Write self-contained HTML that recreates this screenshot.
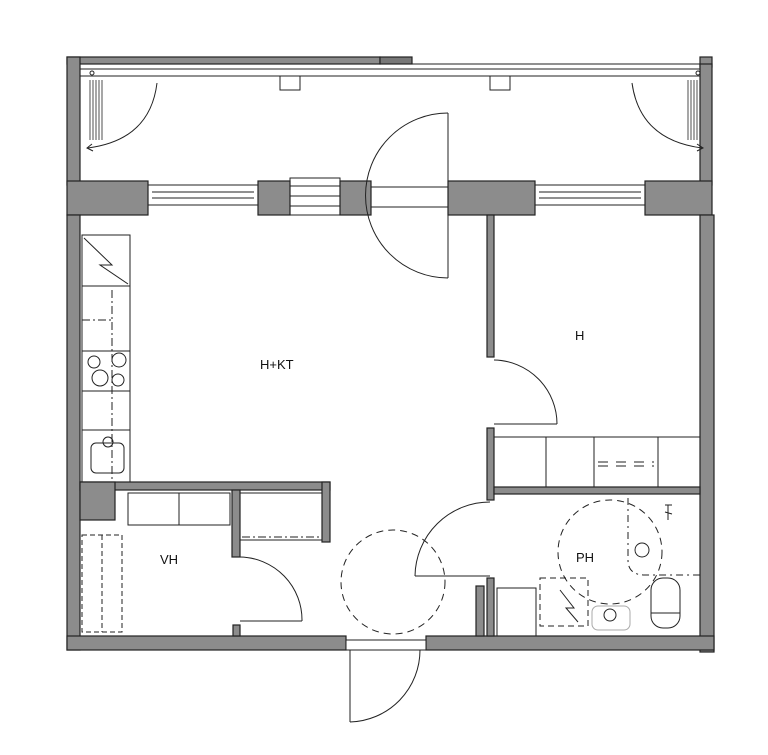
<!DOCTYPE html>
<html><head><meta charset="utf-8"><style>
html,body{margin:0;padding:0;background:#fff}
svg{display:block}
text{font-family:"Liberation Sans",sans-serif;font-size:13px;fill:#111}
</style></head><body>
<svg width="768" height="755" viewBox="0 0 768 755" xmlns="http://www.w3.org/2000/svg">
<g fill="#8c8c8c" stroke="#222" stroke-width="1.2">
<rect x="67" y="57" width="313" height="7"/>
<rect x="380" y="57" width="32" height="7" fill="#777"/>
<rect x="67" y="57" width="13" height="128"/>
<rect x="700" y="57" width="12" height="10"/>
<rect x="700" y="64" width="12" height="121"/>
<rect x="67" y="181" width="81" height="34"/>
<rect x="258" y="181" width="32" height="34"/>
<rect x="340" y="181" width="31" height="34"/>
<rect x="448" y="181" width="87" height="34"/>
<rect x="645" y="181" width="67" height="34"/>
<rect x="67" y="215" width="13" height="435"/>
<rect x="700" y="215" width="14" height="437"/>
<rect x="67" y="636" width="279" height="14"/>
<rect x="426" y="636" width="288" height="14"/>
<rect x="487" y="215" width="7" height="142"/>
<rect x="487" y="428" width="7" height="72"/>
<rect x="487" y="578" width="7" height="58"/>
<rect x="494" y="487" width="206" height="7"/>
<rect x="476" y="586" width="8" height="50"/>
<rect x="80" y="482" width="250" height="8"/>
<rect x="80" y="482" width="35" height="38"/>
<rect x="322" y="482" width="8" height="60"/>
<rect x="232" y="490" width="8" height="67"/>
<rect x="233" y="625" width="7" height="11"/>
</g>
<g fill="none" stroke="#222" stroke-width="1">
<rect x="148" y="185" width="110" height="20"/><line x1="152" y1="192" x2="254" y2="192"/><line x1="152" y1="198" x2="254" y2="198"/>
<rect x="535" y="185" width="110" height="20"/><line x1="539" y1="192" x2="641" y2="192"/><line x1="539" y1="198" x2="641" y2="198"/>
<rect x="290" y="178" width="50" height="37"/><line x1="290" y1="186" x2="340" y2="186"/><line x1="290" y1="196" x2="340" y2="196"/><line x1="290" y1="206" x2="340" y2="206"/>
<rect x="371" y="187" width="77" height="20"/>
<line x1="313" y1="64" x2="712" y2="64"/>
<rect x="80" y="69" width="620" height="7"/>
<circle cx="92" cy="73" r="2"/><circle cx="698" cy="73" r="2"/>
<rect x="280" y="76" width="20" height="14"/><rect x="490" y="76" width="20" height="14"/>
<path d="M157 83 Q150 140 88 148"/><path d="M92 144 L87 148 L93 151"/>
<path d="M632 83 Q640 140 702 148"/><path d="M697 144 L703 148 L697 151"/>
<g stroke-width="0.8"><line x1="90" y1="80" x2="90" y2="140"/><line x1="93" y1="80" x2="93" y2="140"/><line x1="96" y1="80" x2="96" y2="140"/><line x1="99" y1="80" x2="99" y2="140"/><line x1="102" y1="80" x2="102" y2="140"/>
<line x1="688" y1="80" x2="688" y2="140"/><line x1="691" y1="80" x2="691" y2="140"/><line x1="694" y1="80" x2="694" y2="140"/><line x1="697" y1="80" x2="697" y2="140"/><line x1="700" y1="80" x2="700" y2="140"/></g>
<line x1="448" y1="113" x2="448" y2="278"/>
<path d="M448 113 A82 82 0 0 0 448 278"/>
<path d="M494 360 A64 64 0 0 1 557 424"/><line x1="494" y1="424" x2="557" y2="424"/>
<rect x="494" y="437" width="206" height="50"/>
<line x1="546" y1="437" x2="546" y2="487"/><line x1="594" y1="437" x2="594" y2="487"/><line x1="658" y1="437" x2="658" y2="487"/>
<line x1="598" y1="462" x2="654" y2="462" stroke-dasharray="10 8"/><line x1="598" y1="466" x2="654" y2="466" stroke-dasharray="10 8"/>
<rect x="82" y="235" width="48" height="247"/>
<line x1="82" y1="286" x2="130" y2="286"/><line x1="82" y1="351" x2="130" y2="351"/><line x1="82" y1="391" x2="130" y2="391"/><line x1="82" y1="430" x2="130" y2="430"/>
<path d="M84 238 L112 265 L100 265 L128 284"/>
<circle cx="94" cy="362" r="6"/><circle cx="119" cy="360" r="7"/><circle cx="100" cy="378" r="8"/><circle cx="118" cy="380" r="6"/>
<rect x="91" y="443" width="33" height="30" rx="5"/><circle cx="108" cy="442" r="5"/>
<line x1="112" y1="290" x2="112" y2="480" stroke-dasharray="8 3 2 3"/>
<line x1="82" y1="320" x2="112" y2="320" stroke-dasharray="8 3 2 3"/>
<rect x="128" y="493" width="102" height="32"/><line x1="179" y1="493" x2="179" y2="525"/>
<rect x="240" y="493" width="82" height="47"/>
<line x1="242" y1="537" x2="322" y2="537" stroke-dasharray="8 3 2 3"/>
<rect x="82" y="535" width="40" height="97" stroke-dasharray="5 3"/>
<line x1="102" y1="535" x2="102" y2="632" stroke-dasharray="5 3"/>
<path d="M240 557 A63 63 0 0 1 302 621"/><line x1="240" y1="621" x2="302" y2="621"/>
<path d="M415 576 A75 75 0 0 1 490 502"/><line x1="415" y1="576" x2="490" y2="576"/>
<circle cx="393" cy="582" r="52" stroke-dasharray="7 5"/>
<rect x="346" y="640" width="80" height="10" fill="#fff"/>
<line x1="350" y1="650" x2="350" y2="722"/><path d="M350 722 A72 72 0 0 0 420 650"/>
<circle cx="610" cy="552" r="52" stroke-dasharray="7 5"/>
<path d="M628 498 L628 560 Q628 575 645 575 L700 575" stroke-dasharray="7 4 2 4"/>
<circle cx="642" cy="550" r="7"/>
<rect x="651" y="578" width="29" height="50" rx="12"/><line x1="651" y1="613" x2="680" y2="613"/>
<rect x="540" y="578" width="48" height="48" stroke-dasharray="6 4"/>
<path d="M560 590 L574 608 L566 608 L578 622"/>
<rect x="497" y="588" width="39" height="48"/>
<rect x="592" y="606" width="38" height="24" rx="6" stroke="#aaa"/>
<circle cx="610" cy="615" r="6"/>
<path d="M665 505 L672 505 M668 505 L668 520 M665 512 L672 514"/>
</g>
<text x="260" y="369">H+KT</text>
<text x="575" y="340">H</text>
<text x="160" y="564">VH</text>
<text x="576" y="562">PH</text>
</svg>
</body></html>
